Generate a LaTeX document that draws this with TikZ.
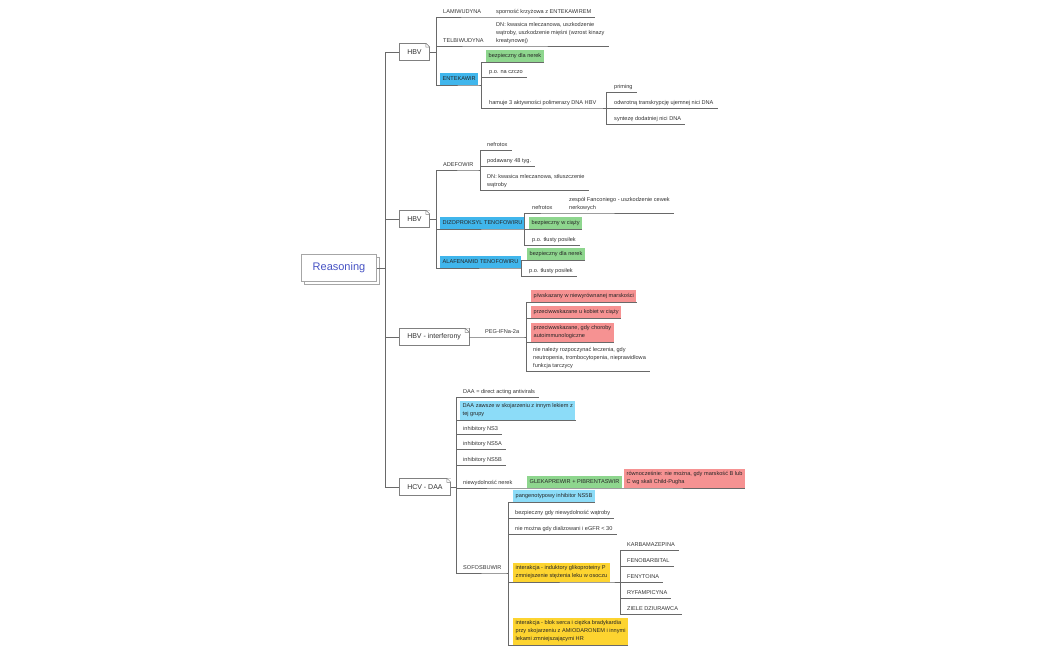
\documentclass[tikz,border=0pt]{standalone}
\usepackage{fontspec}
\setmainfont{Liberation Sans}
\usepackage{tikz}
\usetikzlibrary{shadows, positioning}
\definecolor{linegray}{RGB}{105,105,105}
\definecolor{rootblue}{RGB}{70,82,196}
\definecolor{drugblue}{RGB}{64,182,236}
\definecolor{noteblue}{RGB}{140,220,248}
\definecolor{safegreen}{RGB}{142,214,142}
\definecolor{warnred}{RGB}{246,146,146}
\definecolor{interyellow}{RGB}{253,212,48}
\tikzstyle{rootTopic}=[draw=black!35, fill=white, line width=0.5pt, minimum width=75pt, minimum height=27pt, font=\fontsize{11}{13}\selectfont, text=rootblue, general shadow={shadow xshift=2.5pt, shadow yshift=-2.5pt, draw=black!35, fill=white, line width=0.5pt}]
\tikzstyle{topic}=[draw=black!50, fill=white, line width=0.5pt, anchor=west, inner xsep=8pt, minimum height=17pt, font=\fontsize{7}{9}\selectfont, text=black!80]
\tikzstyle{leaf}=[anchor=south west, inner xsep=4pt, inner ysep=2pt, text depth=1.5pt, align=left, font=\fontsize{5.6}{8}\selectfont, text=black!80]
\tikzstyle{tagged}=[anchor=south west, inner xsep=2.5pt, inner ysep=2pt, align=left, font=\fontsize{5.6}{8}\selectfont, text=black!85, execute at begin node=\strut, execute at end node=\strut]
\tikzstyle{drug}=[tagged, fill=drugblue]
\tikzstyle{note}=[tagged, fill=noteblue]
\tikzstyle{safe}=[tagged, fill=safegreen]
\tikzstyle{warn}=[tagged, fill=warnred]
\tikzstyle{inter}=[tagged, fill=interyellow]
\tikzstyle{branch}=[linegray, line width=0.6pt]

\begin{document}
\begin{tikzpicture}[x=1pt, y=-1pt]
    \useasboundingbox (0, 0) rectangle (1050, 650);

    \node (root)[rootTopic] at (339, 268) {Reasoning};

    \node (hbvA)[topic] at (399, 52) {HBV};
    \node (hbvB)[topic] at (399, 219) {HBV};
    \node (hbvI)[topic] at (399, 337) {HBV - interferony};
    \node (hcv)[topic] at (399, 487) {HCV - DAA};

    % HBV 1
    \node (lam)[leaf] at (439, 17) {LAMIWUDYNA};
    \node (spor)[leaf] at (492, 17) {sporność krzyżowa z ENTEKAWIREM};
    \node (telb)[leaf] at (439, 46) {TELBIWUDYNA};
    \node (dn1)[leaf] at (492, 46) {DN: kwasica mleczanowa, uszkodzenie\\wątroby, uszkodzenie mięśni (wzrost kinazy\\kreatynowej)};
    \node (ent)[drug] at (440, 85) {ENTEKAWIR};
    \node (bdn1)[safe] at (486, 62) {bezpieczny dla nerek};
    \node (poc)[leaf] at (485, 77) {p.o. na czczo};
    \node (ham)[leaf] at (485, 108) {hamuje 3 aktywności polimerazy DNA HBV};
    \node (prim)[leaf] at (610, 92) {priming};
    \node (odw)[leaf] at (610, 108) {odwrotną transkrypcję ujemnej nici DNA};
    \node (syn)[leaf] at (610, 124) {syntezę dodatniej nici DNA};

    % HBV 2
    \node (adef)[leaf] at (439, 170) {ADEFOWIR};
    \node (nef1)[leaf] at (483, 150) {nefrotox};
    \node (pod)[leaf] at (483, 166) {podawany 48 tyg.};
    \node (dn2)[leaf] at (483, 190) {DN: kwasica mleczanowa, stłuszczenie\\wątroby};
    \node (diz)[drug] at (440, 229) {DIZOPROKSYL TENOFOWIRU};
    \node (nef2)[leaf] at (528, 213) {nefrotox};
    \node (zesp)[leaf] at (565, 213) {zespół Fanconiego - uszkodzenie cewek\\nerkowych};
    \node (bwc)[safe] at (529, 229) {bezpieczny w ciąży};
    \node (pot1)[leaf] at (528, 245) {p.o. tłusty posiłek};
    \node (alaf)[drug] at (440, 268) {ALAFENAMID TENOFOWIRU};
    \node (bdn2)[safe] at (527, 260) {bezpieczny dla nerek};
    \node (pot2)[leaf] at (525, 276) {p.o. tłusty posiłek};

    % interferony
    \node (peg)[leaf] at (481, 337) {PEG-IFNa-2a};
    \node (pw)[warn] at (531, 302) {p/wskazany w niewyrównanej marskości};
    \node (prz1)[warn] at (531, 318) {przeciwwskazane u kobiet w ciąży};
    \node (prz2)[warn] at (531, 342) {przeciwwskazane, gdy choroby\\autoimmunologiczne};
    \node (nie2)[leaf] at (529, 371) {nie należy rozpoczynać leczenia, gdy\\neutropenia, trombocytopenia, nieprawidłowa\\funkcja tarczycy};

    % HCV
    \node (daa1)[leaf] at (459, 397) {DAA = direct acting antivirals};
    \node (daa2)[note] at (460, 420) {DAA zawsze w skojarzeniu z innym lekiem z\\tej grupy};
    \node (ns3)[leaf] at (459, 434) {inhibitory NS3};
    \node (ns5a)[leaf] at (459, 449) {inhibitory NS5A};
    \node (ns5b)[leaf] at (459, 465) {inhibitory NS5B};
    \node (ner)[leaf] at (459, 488) {niewydolność nerek};
    \node (glek)[safe] at (527, 488) {GLEKAPREWIR + PIBRENTASWIR};
    \node (rown)[warn] at (624, 488) {równocześnie: nie można, gdy marskość B lub\\C wg skali Child-Pugha};
    \node (sof)[leaf] at (459, 573) {SOFOSBUWIR};
    \node (pang)[note] at (513, 502) {pangenotypowy inhibitor NS5B};
    \node (bnw)[leaf] at (511, 518) {bezpieczny gdy niewydolność wątroby};
    \node (nmg)[leaf] at (511, 534) {nie można gdy dializowani i eGFR < 30};
    \node (int1)[inter] at (513, 582) {interakcja - induktory glikoproteiny P\\zmniejszenie stężenia leku w osoczu};
    \node (karb)[leaf] at (623, 550) {KARBAMAZEPINA};
    \node (feno)[leaf] at (623, 566) {FENOBARBITAL};
    \node (feny)[leaf] at (623, 582) {FENYTOINA};
    \node (ryf)[leaf] at (623, 598) {RYFAMPICYNA};
    \node (ziele)[leaf] at (623, 614) {ZIELE DZIURAWCA};
    \node (int2)[inter] at (513, 645) {interakcja - blok serca i ciężka bradykardia\\przy skojarzeniu z AMIODARONEM i innymi\\lekami zmniejszającymi HR};

    % junctions
    \coordinate (jR) at (385, 268);
    \coordinate (jA) at (436, 52);
    \coordinate (jE) at (481, 85);
    \coordinate (jHm) at (606, 108);
    \coordinate (jB) at (436, 219);
    \coordinate (jAd) at (480, 170);
    \coordinate (jD) at (524, 229);
    \coordinate (jAl) at (521, 268);
    \coordinate (jP) at (526, 337);
    \coordinate (jH) at (456, 487);
    \coordinate (jS) at (508, 573);
    \coordinate (jI) at (620, 582);

    \draw[branch] (root.east) -- (jR);
    \foreach \t in {hbvA, hbvB, hbvI, hcv}
        \draw[branch] (jR) |- (\t.west);

    \draw[branch] (hbvA.east) -- (jA);
    \draw[branch] (jA) |- (lam.south east) -- (spor.south east);
    \draw[branch] (jA) |- (telb.south east) -- (dn1.south east);
    \draw[branch] (jA) |- (ent.south east) -- (jE);
    \foreach \c in {bdn1, poc}
        \draw[branch] (jE) |- (\c.south east);
    \draw[branch] (jE) |- (ham.south east) -- (jHm);
    \foreach \c in {prim, odw, syn}
        \draw[branch] (jHm) |- (\c.south east);

    \draw[branch] (hbvB.east) -- (jB);
    \draw[branch] (jB) |- (adef.south east) -- (jAd);
    \foreach \c in {nef1, pod, dn2}
        \draw[branch] (jAd) |- (\c.south east);
    \draw[branch] (jB) |- (diz.south east) -- (jD);
    \draw[branch] (jD) |- (nef2.south east) -- (zesp.south east);
    \foreach \c in {bwc, pot1}
        \draw[branch] (jD) |- (\c.south east);
    \draw[branch] (jB) |- (alaf.south east) -- (jAl);
    \foreach \c in {bdn2, pot2}
        \draw[branch] (jAl) |- (\c.south east);

    \draw[branch] (hbvI.east) -- (peg.south east) -- (jP);
    \foreach \c in {pw, prz1, prz2, nie2}
        \draw[branch] (jP) |- (\c.south east);

    \draw[branch] (hcv.east) -- (jH);
    \foreach \c in {daa1, daa2, ns3, ns5a, ns5b}
        \draw[branch] (jH) |- (\c.south east);
    \draw[branch] (jH) |- (ner.south east) -- (glek.south east) -- (rown.south east);
    \draw[branch] (jH) |- (sof.south east) -- (jS);
    \foreach \c in {pang, bnw, nmg, int2}
        \draw[branch] (jS) |- (\c.south east);
    \draw[branch] (jS) |- (int1.south east) -- (jI);
    \foreach \c in {karb, feno, feny, ryf, ziele}
        \draw[branch] (jI) |- (\c.south east);

    % folded corners
    \foreach \t in {hbvA, hbvB, hbvI, hcv} {
        \fill[white] (\t.north east) -- ([xshift=-4pt]\t.north east) -- ([yshift=-4pt]\t.north east) -- cycle;
        \draw[black!50, line width=0.5pt] ([xshift=-4pt]\t.north east) -- ([yshift=-4pt]\t.north east)
            ([xshift=-4pt]\t.north east) |- ([yshift=-4pt]\t.north east);
    }

\end{tikzpicture}
\end{document}
